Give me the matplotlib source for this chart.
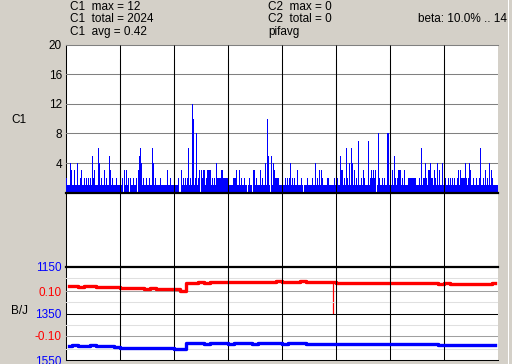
import numpy as np
import matplotlib
matplotlib.use("Agg")
import matplotlib.pyplot as plt
from matplotlib.patches import Rectangle

plt.rcParams['font.family'] = ['Liberation Sans', 'DejaVu Sans']

# C1 counts, max per screen column (8 divisions x 54 columns), base-36 digits
c1_div = [
    "2111431131" "1411231121" "2121215231" "1164121131" "2115312111" "2111",
    "1120313120" "2112112035" "6412112112" "1164121111" "2111111311" "2111",
    "1111200312" "12126121ca" "1281230323" "3123333121" "2142222332" "2222",
    "1111122231" "1312112110" "1211033121" "113121141a" "5105143222" "2111",
    "1112121241" "2121131112" "1011121111" "2114121313" "2111122111" "1121",
    "1211533121" "6214164131" "2171121321" "1171232323" "0182112121" "1881",
    "1131521233" "3121311122" "2222221112" "1612242133" "4221321413" "1141",
    "1211212121" "2112313222" "2421243112" "1121126112" "1312141321" "1111",
]
c1_counts = np.array([int(ch, 36) for s in c1_div for ch in s])

# B/J traces, one sample every 6 columns
red_vals = [0.121, 0.122, 0.120, 0.121, 0.122, 0.120,
            0.119, 0.118, 0.119,
            0.114, 0.113, 0.112, 0.112, 0.111, 0.112, 0.111, 0.110, 0.111,
            0.108, 0.101,
            0.137, 0.136, 0.138, 0.137, 0.139, 0.138, 0.139,
            0.140, 0.141, 0.140, 0.142, 0.141, 0.142, 0.141, 0.142, 0.143,
            0.142, 0.141, 0.142, 0.143, 0.142, 0.142, 0.141, 0.142,
            0.141,
            0.136, 0.135, 0.136, 0.135, 0.136, 0.135, 0.135, 0.136, 0.135,
            0.136, 0.135, 0.136, 0.135, 0.134, 0.135, 0.134,
            0.134, 0.133, 0.134, 0.133, 0.132, 0.133, 0.132, 0.131, 0.132,
            0.133, 0.134]
blue_vals = [1487, 1486, 1488, 1487, 1486,
             1490, 1491, 1490, 1492,
             1496, 1497, 1496, 1497, 1498, 1497, 1496, 1497, 1498,
             1500, 1501,
             1478, 1477, 1478, 1479, 1478, 1477, 1478, 1479, 1478, 1477,
             1478, 1479, 1478, 1478, 1477, 1478, 1479, 1478, 1477, 1478,
             1480, 1479, 1480, 1481, 1480, 1479, 1480, 1481, 1480, 1479, 1480,
             1481, 1480, 1480, 1479, 1480, 1481, 1480, 1479, 1480, 1481, 1482,
             1484, 1483, 1484, 1485, 1484, 1483, 1484, 1485, 1484, 1485]
red_glitch_t = [267]
red_glitch_v = [0.0]

c1_ticks = [4, 8, 12, 16, 20]
bj_ticks = [1150, 1350, 1550]
bj_minor = [1200, 1300, 1400, 1500]
red_ticks = [0.10, -0.10]
red_labels = ["0.10", "-0.10"]
header_left = ["C1  max = 12", "C1  total = 2024", "C1  avg = 0.42"]
header_mid = ["C2  max = 0", "C2  total = 0", "pifavg"]
beta_text = "beta: 10.0% .. 14.9%"

W, H = 512, 364
BG = "#d4d0c8"
FS = 8.5
n_cols = len(c1_counts)
n_div = 8
step = 6
t = np.arange(len(red_vals)) * step + step / 2
vl = np.arange(1, n_div) * n_cols / n_div

fig = plt.figure(figsize=(W / 100, H / 100), dpi=100, facecolor=BG)

def box(top, bottom):
    return [66 / W, 1 - bottom / H, (498 - 66) / W, (bottom - top) / H]

# white area behind everything
ax_bg = fig.add_axes(box(44.7, 360.3))
ax_bg.set_facecolor("white")
ax_bg.set_xlim(0, n_cols)
for s in ["top", "right", "bottom"]:
    ax_bg.spines[s].set_visible(False)
ax_bg.spines["left"].set_linewidth(0.75)
ax_bg.set_xticks([])
ax_bg.set_yticks([])
ax_bg.vlines(vl, 0, 1, color="black", lw=0.75)

# C1 histogram
ax1 = fig.add_axes(box(44.7, 192.6))
ax1.patch.set_alpha(0)
ax1.stairs(c1_counts, np.arange(n_cols + 1), fill=True, color="#0000ff",
           antialiased=False, zorder=2)
ax1.set_xlim(0, n_cols)
ax1.set_ylim(0, 20)
for v in c1_ticks[:-1]:
    ax1.axhline(v, color="#808080", lw=0.75, zorder=1)
ax1.vlines(vl, 0, 20, color="black", lw=0.75, zorder=3)
ax1.spines["top"].set_color("#808080")
ax1.spines["top"].set_linewidth(0.75)
ax1.spines["right"].set_visible(False)
ax1.spines["left"].set_visible(False)
ax1.spines["bottom"].set_linewidth(1.6)
ax1.spines["bottom"].set_zorder(4)
ax1.set_xticks([])
ax1.set_yticks(c1_ticks)
ax1.tick_params(axis="y", length=0, pad=3, labelsize=FS)

# B/J panel
ax3 = fig.add_axes(box(266.7, 360.3))
ax3.patch.set_alpha(0)
ax3.set_xlim(0, n_cols)
ax3.set_ylim(1550, 1150)
for v in bj_minor:
    ax3.axhline(v, color="#e0e0e0", lw=0.75, zorder=1)
ax3.axhline(1350, color="black", lw=0.75, zorder=1)
ax3.vlines(vl, 1150, 1550, color="black", lw=0.75, zorder=1)
ax3.spines["top"].set_linewidth(1.6)
ax3.spines["bottom"].set_linewidth(0.75)
ax3.spines["right"].set_visible(False)
ax3.spines["left"].set_visible(False)
ax3.set_xticks([])
ax3.set_yticks(bj_ticks)
ax3.tick_params(axis="y", length=0, pad=3, labelsize=FS, labelcolor="#0000ff")

ax3r = ax3.twinx()
ax3r.set_ylim(-0.208, 0.208)
for v in red_ticks:
    ax3r.axhline(v, color="#a0a0a0", lw=0.75, zorder=1)
ax3r.plot(t, red_vals, color="#ff0000", lw=2.4, drawstyle="steps-mid",
          zorder=3)
ax3r.vlines(red_glitch_t, red_glitch_v, red_vals[red_glitch_t[0] // step],
            color="#ff0000", lw=0.9, zorder=3)
ax3r.set_yticks(red_ticks)
ax3r.set_yticklabels(red_labels)
ax3r.yaxis.set_ticks_position("left")
ax3r.tick_params(axis="y", length=0, pad=3, labelsize=FS, labelcolor="#ff0000")
for s in ax3r.spines.values():
    s.set_visible(False)
ax3.plot(t, blue_vals, color="#0000ff", lw=2.4, drawstyle="steps-mid",
         zorder=4)
ax3.set_zorder(ax3r.get_zorder() + 1)

# texts
for i, s in enumerate(header_left):
    fig.text(70 / W, 1 - (7.5 + 12 * i) / H, s, fontsize=FS, va="center")
for i, s in enumerate(header_mid):
    fig.text(268 / W, 1 - (7.5 + 12 * i) / H, s, fontsize=FS, va="center")
fig.text(418 / W, 1 - 19.5 / H, beta_text, fontsize=FS, va="center")
fig.text(11 / W, 1 - 120 / H, "C1", fontsize=FS, va="center")
fig.text(11 / W, 1 - 310.5 / H, "B/J", fontsize=FS, va="center")

# window edge on the right
fig.patches.append(Rectangle((508 / W, 0), 1 / W, 1, transform=fig.transFigure,
                             facecolor="white", edgecolor="none", zorder=10))
fig.patches.append(Rectangle((509 / W, 0), 3 / W, 1, transform=fig.transFigure,
                             facecolor=BG, edgecolor="none", zorder=10))

fig.savefig("out.png", dpi=100, facecolor=BG)
